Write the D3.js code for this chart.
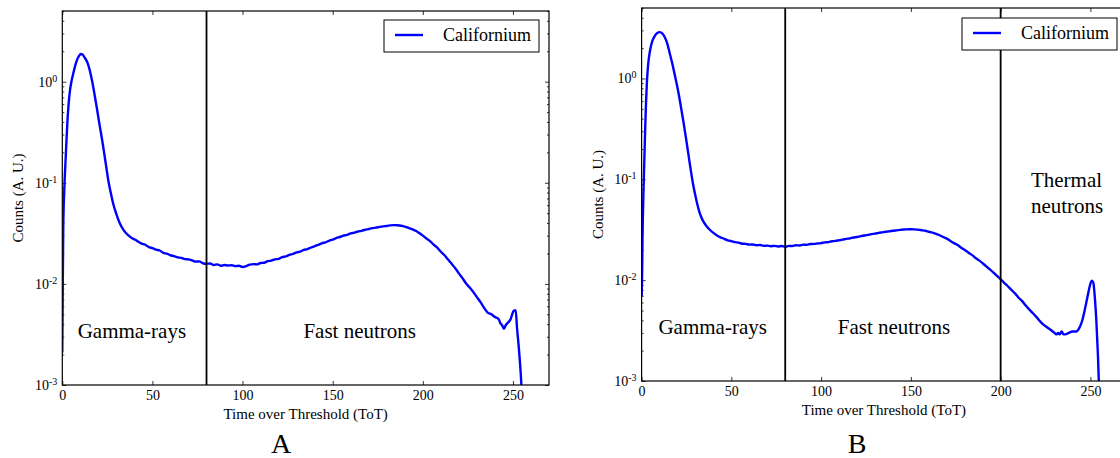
<!DOCTYPE html>
<html>
<head>
<meta charset="utf-8">
<script src="https://cdn.jsdelivr.net/npm/d3@7"></script>
<style>
  html, body { margin: 0; padding: 0; background: #fff; }
  svg { display: block; }
  text { font-family: "Liberation Serif", "Times New Roman", Times, "DejaVu Serif", serif; fill: #000; }
</style>
</head>
<body>
<svg id="chart" width="1120" height="458"></svg>
<script>
// Californium ToT spectra, two detector settings (A and B)
const seriesName = "Californium";
const xTicks = [0, 50, 100, 150, 200, 250];
const yDecades = [1e-3, 1e-2, 1e-1, 1e0];
const yDecadeExponents = ["-3", "-2", "-1", "0"];
const xLabel = "Time over Threshold (ToT)";
const yLabel = "Counts (A. U.)";

const totA = [0, 0.15, 0.3, 0.55, 1.1, 1.9, 2.8, 3.5, 4.3, 5.2, 6.1, 7.2, 8.3, 9.3, 10.3, 11.3, 12.5, 13.9, 15.3, 16.7,
  18.1, 19.3, 20.5, 21.6, 22.7, 24.1, 25.5, 26.8, 28.2, 30, 31.9, 34, 36.5, 38.5, 41, 42, 44, 46, 48, 50,
  52, 54, 56, 58, 60, 62, 64, 66, 68, 70, 72, 74, 76, 78, 80, 82, 84, 86, 88, 90,
  92, 94, 96, 98, 100, 102, 104, 106, 108, 110, 112, 114, 116, 118, 120, 122, 124, 126, 128, 130,
  132, 134, 136, 138, 140, 142, 144, 146, 148, 150, 152, 154, 156, 158, 160, 162, 164, 166, 168, 170,
  172, 174, 176, 178, 180, 182, 184, 186, 188, 190, 192, 194, 196, 198, 200, 202, 204, 206, 208, 210,
  212, 214, 216, 218, 220, 222, 224, 226, 228, 230, 232, 234, 236, 238, 240, 242, 243, 244, 245, 246,
  247, 248.5, 250.4, 251.5, 252.3, 253.2, 254.2, 255];
const countsA = [0.0021, 0.005, 0.012, 0.037, 0.085, 0.18, 0.39, 0.6, 0.83, 1.03, 1.21, 1.45, 1.66, 1.8, 1.88, 1.85, 1.72, 1.55, 1.28, 0.98,
  0.71, 0.53, 0.39, 0.30, 0.227, 0.155, 0.106, 0.081, 0.0625, 0.049, 0.0397, 0.034, 0.0303, 0.0285, 0.0270, 0.0262, 0.0250, 0.0244, 0.0231, 0.0226,
  0.0218, 0.0214, 0.0203, 0.0199, 0.0192, 0.0188, 0.0183, 0.0181, 0.0176, 0.0175, 0.0171, 0.0166, 0.0167, 0.0160, 0.0158, 0.0159, 0.0154, 0.0156, 0.0151, 0.0154,
  0.0152, 0.0153, 0.0150, 0.0151, 0.0147, 0.0150, 0.0155, 0.0157, 0.0156, 0.0161, 0.0162, 0.0168, 0.0170, 0.0175, 0.0177, 0.0184, 0.0187, 0.0194, 0.0198, 0.0205,
  0.0209, 0.0217, 0.0221, 0.0229, 0.0236, 0.0243, 0.0252, 0.0258, 0.0267, 0.0274, 0.0284, 0.0291, 0.0300, 0.0306, 0.0316, 0.0321, 0.0330, 0.0335, 0.0343, 0.0349,
  0.0356, 0.0360, 0.0366, 0.0371, 0.0374, 0.0379, 0.0381, 0.0380, 0.0376, 0.0369, 0.0359, 0.0348, 0.0335, 0.0318, 0.0300, 0.0281, 0.0265, 0.0244, 0.0228, 0.0208,
  0.0192, 0.0174, 0.0158, 0.0143, 0.0127, 0.0114, 0.0101, 0.0092, 0.0083, 0.0074, 0.0066, 0.0058, 0.0052, 0.0050, 0.0047, 0.0045, 0.0041, 0.0039, 0.0036, 0.0039,
  0.0041, 0.0044, 0.0054, 0.0055, 0.0036, 0.0024, 0.0014, 0.0008];

const totB = [0, 0.3, 0.5, 1.0, 1.5, 2.0, 2.5, 3.0, 3.6, 4.6, 5.8, 7.2, 8.7, 10.2, 11.5, 13, 14.3, 15.6, 17.2, 18.9,
  20.3, 21.8, 23.3, 24.9, 26.3, 27.5, 28.5, 29.8, 31, 32.3, 34, 36, 38, 40, 42, 44, 46, 48, 50, 52,
  54, 56, 58, 60, 62, 64, 66, 68, 70, 72, 74, 76, 78, 80, 82, 84, 86, 88, 90, 92,
  94, 96, 98, 100, 102, 104, 106, 108, 110, 112, 114, 116, 118, 120, 122, 124, 126, 128, 130, 132,
  134, 136, 138, 140, 142, 144, 146, 148, 150, 152, 154, 156, 158, 160, 162, 164, 166, 168, 170, 172,
  174, 176, 178, 180, 182, 184, 186, 188, 190, 192, 194, 196, 198, 200, 202, 204, 206, 208, 210, 212,
  214, 216, 218, 220, 222, 224, 226, 228, 230, 231, 232, 233, 234, 235, 236, 238, 240, 242, 244, 245.5,
  247, 248.5, 249.7, 250.8, 251.6, 252.4, 253.3, 254.2, 255];
const countsB = [0.0069, 0.012, 0.025, 0.07, 0.15, 0.32, 0.6, 0.95, 1.35, 1.85, 2.3, 2.62, 2.82, 2.88, 2.8, 2.55, 2.22, 1.8, 1.38, 1.0,
  0.76, 0.537, 0.372, 0.245, 0.166, 0.12, 0.093, 0.071, 0.0569, 0.0468, 0.0394, 0.0347, 0.0316, 0.0294, 0.0277, 0.0266, 0.0257, 0.0248, 0.0244, 0.0238,
  0.0236, 0.0230, 0.0229, 0.0225, 0.0226, 0.0222, 0.0223, 0.0219, 0.0220, 0.0217, 0.0219, 0.0216, 0.0218, 0.0214, 0.0219, 0.0218, 0.0222, 0.0221, 0.0225, 0.0224,
  0.0228, 0.0229, 0.0231, 0.0233, 0.0237, 0.0238, 0.0243, 0.0245, 0.0249, 0.0252, 0.0257, 0.0259, 0.0265, 0.0268, 0.0273, 0.0277, 0.0281, 0.0286, 0.0289, 0.0294,
  0.0298, 0.0302, 0.0305, 0.0309, 0.0312, 0.0315, 0.0318, 0.0319, 0.0320, 0.0319, 0.0317, 0.0313, 0.0309, 0.0302, 0.0296, 0.0288, 0.0279, 0.0268, 0.0258, 0.0245,
  0.0233, 0.0223, 0.0210, 0.0199, 0.0188, 0.0178, 0.0166, 0.0157, 0.0147, 0.0137, 0.0128, 0.0119, 0.0110, 0.0102, 0.0094, 0.0087, 0.0080, 0.0074, 0.0067, 0.0062,
  0.0056, 0.0051, 0.0047, 0.0043, 0.0039, 0.0036, 0.0034, 0.0032, 0.0030, 0.0029, 0.0030, 0.0029, 0.0031, 0.0029, 0.0029, 0.0030, 0.0031, 0.0031, 0.0034, 0.0040,
  0.0052, 0.0070, 0.0088, 0.0099, 0.0095, 0.0070, 0.0040, 0.0018, 0.0007];

// Region boundaries (ToT) and their labels
const cutsA = [80];
const cutsB = [80, 200];
const regionsA = [
  { lines: ["Gamma-rays"], at: 38.6, y: 0.0029, anchor: "middle" },
  { lines: ["Fast neutrons"], at: 165, y: 0.0029, anchor: "middle" }
];
const regionsB = [
  { lines: ["Gamma-rays"], at: 39.6, y: 0.0029, anchor: "middle" },
  { lines: ["Fast neutrons"], at: 140.6, y: 0.0029, anchor: "middle" },
  { lines: ["Thermal", "neutrons"], at: 216.9, y: 0.084, anchor: "start" }
];

const xDomain = [0, 270];
const yDomain = [1e-3, 5];

const svg = d3.select("#chart");
svg.append("rect").attr("width", 1120).attr("height", 458).attr("fill", "#fff");

function drawPanel(cfg) {
  const { left, right, top, bottom, tot, counts, cuts, regions, letter, legend, id } = cfg;
  const x = d3.scaleLinear().domain(xDomain).range([left, right]);
  const y = d3.scaleLog().domain(yDomain).range([bottom, top]);
  const g = svg.append("g");

  const clipId = "clip-" + id;
  svg.append("clipPath").attr("id", clipId)
    .append("rect").attr("x", left).attr("y", top)
    .attr("width", right - left).attr("height", bottom - top);

  const minor = [];
  yDecades.forEach(d => { for (let k = 2; k <= 9; k++) { const v = k * d; if (v <= yDomain[1]) minor.push(v); } });

  // ticks on all four sides, pointing inward
  const axBottom = g.append("g").attr("transform", `translate(0,${bottom})`)
    .call(d3.axisBottom(x).tickValues(xTicks).tickSizeInner(-4).tickSizeOuter(0).tickPadding(5).tickFormat(d3.format("d")));
  const axTop = g.append("g").attr("transform", `translate(0,${top})`)
    .call(d3.axisTop(x).tickValues(xTicks).tickSizeInner(-4).tickSizeOuter(0).tickFormat(""));
  const axLeft = g.append("g").attr("transform", `translate(${left},0)`)
    .call(d3.axisLeft(y).tickValues(yDecades).tickSizeInner(-4).tickSizeOuter(0).tickPadding(5));
  const axLeftMinor = g.append("g").attr("transform", `translate(${left},0)`)
    .call(d3.axisLeft(y).tickValues(minor).tickSizeInner(-2).tickSizeOuter(0).tickFormat(""));
  const axRight = g.append("g").attr("transform", `translate(${right},0)`)
    .call(d3.axisRight(y).tickValues(yDecades).tickSizeInner(-4).tickSizeOuter(0).tickFormat(""));
  const axRightMinor = g.append("g").attr("transform", `translate(${right},0)`)
    .call(d3.axisRight(y).tickValues(minor).tickSizeInner(-2).tickSizeOuter(0).tickFormat(""));

  [axBottom, axTop, axLeft, axLeftMinor, axRight, axRightMinor].forEach(a => {
    a.attr("font-family", null);
    a.select(".domain").remove();
    a.selectAll(".tick line").attr("stroke", "#000").attr("stroke-width", 0.8);
    a.selectAll("text").style("font-size", "14px").attr("fill", "#000");
  });

  // powers of ten with superscript exponents
  axLeft.selectAll(".tick text").each(function(d, i) {
    const t = d3.select(this);
    t.text(null);
    t.append("tspan").text("10");
    t.append("tspan").attr("dy", "-5").style("font-size", "10px").text(yDecadeExponents[i]);
  });

  // data curve
  const line = d3.line().curve(d3.curveMonotoneX).x(d => x(d[0])).y(d => y(d[1]));
  const pts = tot.map((t, i) => [t, counts[i]]);
  g.append("path").datum(pts)
    .attr("clip-path", `url(#${clipId})`)
    .attr("fill", "none").attr("stroke", "#0000ff").attr("stroke-width", 2.4)
    .attr("stroke-linejoin", "round").attr("d", line);

  // region boundaries
  g.selectAll(".cut").data(cuts).join("line")
    .attr("clip-path", `url(#${clipId})`)
    .attr("x1", d => x(d)).attr("x2", d => x(d))
    .attr("y1", top).attr("y2", bottom)
    .attr("stroke", "#000").attr("stroke-width", 1.8);

  // frame
  g.append("rect").attr("x", left).attr("y", top)
    .attr("width", right - left).attr("height", bottom - top)
    .attr("fill", "none").attr("stroke", "#000").attr("stroke-width", 1.2);

  // region names
  regions.forEach(r => {
    const t = g.append("text").attr("x", x(r.at)).attr("y", y(r.y))
      .attr("text-anchor", r.anchor).style("font-size", "21px");
    r.lines.forEach((s, i) => {
      t.append("tspan").attr("x", x(r.at)).attr("dy", i === 0 ? 0 : 26).text(s);
    });
  });

  // legend
  const lg = g.append("g").attr("transform", `translate(${legend.x},${legend.y})`);
  lg.append("rect").attr("width", 155).attr("height", 32)
    .attr("fill", "#fff").attr("stroke", "#000").attr("stroke-width", 1);
  lg.append("line").attr("x1", 11).attr("x2", 39).attr("y1", 15).attr("y2", 15)
    .attr("stroke", "#0000ff").attr("stroke-width", 2.4);
  lg.append("text").attr("x", 59).attr("y", 21).style("font-size", "18px").text(seriesName);

  // axis titles
  g.append("text").attr("x", (left + right) / 2).attr("y", bottom + 34)
    .attr("text-anchor", "middle").style("font-size", "15px").text(xLabel);
  g.append("text").attr("transform", `translate(${left - 39},${(top + bottom) / 2}) rotate(-90)`)
    .attr("text-anchor", "middle").style("font-size", "15px").text(yLabel);

  // panel letter
  g.append("text").attr("x", letter.x).attr("y", 453)
    .attr("text-anchor", "middle").style("font-size", "28px").text(letter.text);
}

drawPanel({
  id: "a", left: 62.3, right: 549, top: 11, bottom: 385,
  tot: totA, counts: countsA, cuts: cutsA, regions: regionsA,
  letter: { x: 281, text: "A" }, legend: { x: 384, y: 20 }
});
drawPanel({
  id: "b", left: 641.6, right: 1126.3, top: 8, bottom: 381,
  tot: totB, counts: countsB, cuts: cutsB, regions: regionsB,
  letter: { x: 857, text: "B" }, legend: { x: 962, y: 18 }
});
</script>
</body>
</html>
